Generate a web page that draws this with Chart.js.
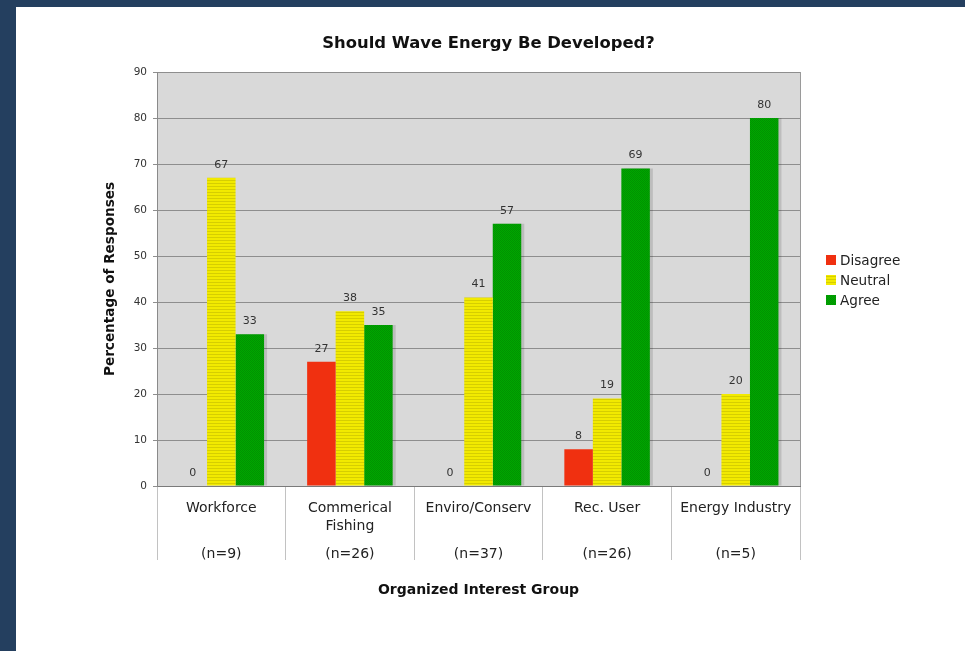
<!DOCTYPE html>
<html><head><meta charset="utf-8">
<script src="https://cdn.jsdelivr.net/npm/chart.js@4"></script>
<style>
html,body{margin:0;padding:0;background:#243f5f;width:965px;height:651px;overflow:hidden}
#panel{position:absolute;left:16px;top:7px;width:949px;height:644px;background:#fff}
canvas{display:block}
</style></head><body>
<div id="panel"><canvas id="c" width="949" height="644"></canvas></div>
<script>
const chartTitle = "Should Wave Energy Be Developed?";
const groupLine1 = ["Workforce", "Commerical", "Enviro/Conserv", "Rec. User", "Energy Industry"];
const groupLine2 = ["", "Fishing", "", "", ""];
const sampleSizes = ["(n=9)", "(n=26)", "(n=37)", "(n=26)", "(n=5)"];
const seriesNames = ["Disagree", "Neutral", "Agree"];
const disagree = [0, 27, 0, 8, 0];
const neutral = [67, 38, 41, 19, 20];
const agree = [33, 35, 57, 69, 80];
const yMin = 0, yMax = 90, yStep = 10;
const yTitle = "Percentage of Responses";
const xTitle = "Organized Interest Group";

Chart.defaults.font.family = "'DejaVu Sans', Verdana, sans-serif";

const canvas = document.getElementById('c');
const ctx = canvas.getContext('2d');

function makePattern(w, h, draw) {
  const c = document.createElement('canvas');
  c.width = w; c.height = h;
  draw(c.getContext('2d'));
  return ctx.createPattern(c, 'repeat');
}
const redFill = '#f03010';
const yellowFill = makePattern(4, 3, g => {
  g.fillStyle = '#f2ea00'; g.fillRect(0, 0, 4, 3);
  g.fillStyle = '#d6ce00'; g.fillRect(0, 2, 4, 1);
});
const greenFill = makePattern(2, 2, g => {
  g.fillStyle = '#00a600'; g.fillRect(0, 0, 2, 2);
  g.fillStyle = '#009300'; g.fillRect(1, 0, 1, 1); g.fillRect(0, 1, 1, 1);
});
const fills = [redFill, yellowFill, greenFill];

const labels = groupLine1.map((l, i) => [l, "", groupLine2[i], "", "", sampleSizes[i]]);

const bgPlugin = {
  id: 'bg',
  beforeDraw(chart) {
    const {ctx, chartArea: a} = chart;
    ctx.save();
    ctx.fillStyle = '#d9d9d9';
    ctx.fillRect(a.left, a.top, a.right - a.left, a.bottom - a.top);
    ctx.restore();
  },
  beforeDatasetsDraw(chart) {
    const {ctx, chartArea: a} = chart;
    ctx.save();
    ctx.strokeStyle = '#9a9a9a';
    ctx.lineWidth = 1;
    ctx.beginPath();
    ctx.moveTo(a.right + 0.5, a.top);
    ctx.lineTo(a.right + 0.5, a.bottom);
    ctx.stroke();
    ctx.restore();
  },
  beforeDatasetDraw(chart, args) {
    if (args.index === 2) {
      const c = chart.ctx;
      c.save();
      c.shadowColor = 'rgba(0,0,0,0.13)';
      c.shadowOffsetX = 3;
      c.shadowOffsetY = 0;
      c.shadowBlur = 0;
    }
  },
  afterDatasetDraw(chart, args) {
    if (args.index === 2) chart.ctx.restore();
  },
  afterDatasetsDraw(chart) {
    const c = chart.ctx;
    c.save();
    c.font = "11px 'DejaVu Sans', Verdana, sans-serif";
    c.fillStyle = '#333';
    c.textAlign = 'center';
    c.textBaseline = 'middle';
    chart.data.datasets.forEach((ds, di) => {
      const meta = chart.getDatasetMeta(di);
      meta.data.forEach((el, i) => {
        c.fillText(String(ds.data[i]), el.x, el.y - 13);
      });
    });
    c.restore();
  },
  afterDraw(chart) {
    const c = chart.ctx;
    const a = chart.chartArea;
    c.save();
    c.fillStyle = '#111';
    c.textAlign = 'center';
    c.textBaseline = 'middle';
    c.font = "bold 16.4px 'DejaVu Sans', Verdana, sans-serif";
    c.fillText(chartTitle, chart.width / 2 - 2, 37);
    // legend
    c.font = "13.6px 'DejaVu Sans', Verdana, sans-serif";
    c.textAlign = 'left';
    chart.data.datasets.forEach((ds, i) => {
      const y = (a.top + a.bottom) / 2 - 19 + i * 20;
      const x = a.right + 26;
      c.fillStyle = ds.backgroundColor;
      c.fillRect(x, y - 5, 10, 10);
      c.fillStyle = '#222';
      c.fillText(ds.label, x + 14, y + 1);
    });
    c.restore();
  }
};

new Chart(ctx, {
  type: 'bar',
  data: {
    labels: labels,
    datasets: seriesNames.map((n, i) => ({
      label: n,
      data: [disagree, neutral, agree][i],
      backgroundColor: fills[i],
      borderWidth: 0,
      categoryPercentage: 0.665,
      barPercentage: 1.0
    }))
  },
  options: {
    responsive: false,
    animation: false,
    devicePixelRatio: 1,
    layout: { padding: { top: 65, right: 165, bottom: 0, left: 0 } },
    plugins: {
      legend: { display: false },
      title: { display: false },
      tooltip: { enabled: false }
    },
    scales: {
      x: {
        offset: true,
        grid: { offset: true, drawOnChartArea: false, tickLength: 74, color: '#c2c2c2', lineWidth: 1 },
        border: { color: '#7a7a7a', width: 1 },
        ticks: {
          color: '#222',
          font: { size: 14, lineHeight: '9.2px' },
          padding: -56.6,
          maxRotation: 0,
          minRotation: 0,
          autoSkip: false
        },
        title: {
          display: true,
          text: xTitle,
          color: '#111',
          font: { size: 14, weight: 'bold' },
          padding: { top: 4, bottom: 52 }
        },
        afterFit(scale) { scale.height = 165; }
      },
      y: {
        min: yMin,
        max: yMax,
        ticks: { stepSize: yStep, color: '#333', font: { size: 10.5 }, padding: 6 },
        grid: { color: '#8e8e8e', lineWidth: 1, tickLength: 4 },
        border: { color: '#8a8a8a', width: 1 },
        title: {
          display: true,
          text: yTitle,
          color: '#111',
          font: { size: 13.6, weight: 'bold' },
          padding: { top: 86, bottom: 4 }
        },
        afterFit(scale) { scale.width = 141; }
      }
    }
  },
  plugins: [bgPlugin]
});
</script>
</body></html>
